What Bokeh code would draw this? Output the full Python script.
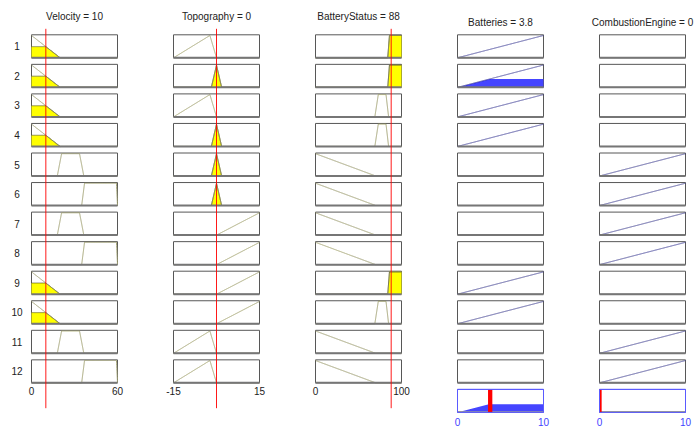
import numpy as np
from bokeh.plotting import figure
from bokeh.models import Range1d
from bokeh.embed import file_html
from bokeh.resources import INLINE
from bokeh.core.properties import value

# ---------------- data ----------------
input_names = ["Velocity", "Topography", "BatteryStatus"]
input_values = [10, 0, 88]
input_ranges = [(0, 60), (-15, 15), (0, 100)]
input_tick_labels = [["0", "60"], ["-15", "15"], ["0", "100"]]

output_names = ["Batteries", "CombustionEngine"]
output_values = [3.8, 0]
output_value_labels = ["3.8", "0"]
output_ranges = [(0, 10), (0, 10)]
output_tick_labels = [["0", "10"], ["0", "10"]]

velocity_mfs = {"low": [-1, 0, 0, 20], "medium": [18, 21, 33.5, 36.5], "high": [35, 37, 59.3, 60]}
topography_mfs = {"negative": [-15, -2.3, -2.3, 0], "zero": [-1.8, 0, 0, 1.8], "positive": [0, 15, 15, 16]}
battery_status_mfs = {"low": [-1, 0, 0, 70], "medium": [69, 73, 82, 85], "high": [84, 86, 100, 101]}
batteries_mfs = {"on": [0, 10, 10, 11]}
combustion_mfs = {"on": [0, 10, 10, 11]}

rule_velocity = ["low", "low", "low", "low", "medium", "high", "medium", "high", "low", "low", "medium", "high"]
rule_topography = ["negative", "zero", "negative", "zero", "zero", "zero", "positive", "positive",
                   "positive", "positive", "negative", "negative"]
rule_battery_status = ["high", "high", "medium", "medium", "low", "low", "low", "low", "high", "medium", "low", "low"]
rule_batteries = ["on", "on", "on", "on", None, None, None, None, "on", "on", None, None]
rule_combustion = [None, None, None, None, "on", "on", "on", "on", None, None, "on", "on"]
rule_strength = [0, 0.37, 0, 0, 0, 0, 0, 0, 0, 0, 0, 0]

# ---------------- styles / layout ----------------
FONT = value("Liberation Sans")
MF_COLOR = "#a3a374"
EDGE_COLOR = "#6f6f45"
OUT_COLOR = "#50509f"
YELLOW = "#ffff00"
BLUE = "#4545ff"
BOX_COLOR = "#575757"
BOTTOM_COLOR = "#767676"
AGG_BOX = "#5a5aff"
TEXT_COLOR = "#222222"

box_left = [31, 173, 315, 457, 599]
box_w = 86
row_top0 = 34.3
row_pitch = 29.55
row_h = 23.0
YTOP = 1.03
n_rules = len(rule_velocity)

input_mfs = [velocity_mfs, topography_mfs, battery_status_mfs]
input_rules = [rule_velocity, rule_topography, rule_battery_status]
output_mfs = [batteries_mfs, combustion_mfs]
output_rules = [rule_batteries, rule_combustion]


def trapmf(x, prm):
    a, b, c, d = prm
    return np.clip(np.minimum((x - a) / (b - a), (d - x) / (d - c)), 0, 1)


def grid(lo, hi, prm):
    pts = [q for q in prm if lo <= q <= hi]
    return np.unique(np.concatenate([np.linspace(lo, hi, 1201), pts]))


W, H = 695, 427
p = figure(width=W, height=H, x_range=Range1d(0, W), y_range=Range1d(H, 0),
           output_backend="svg", toolbar_location=None, min_border=0,
           x_axis_location=None, y_axis_location=None, title=None)
p.grid.visible = False
p.outline_line_color = None


def cell(col, row, lo, hi):
    top = row_top0 + row * row_pitch
    return p.subplot(x_source=Range1d(lo, hi), y_source=Range1d(0, YTOP),
                     x_target=Range1d(box_left[col], box_left[col] + box_w),
                     y_target=Range1d(top + row_h, top))


def draw_box(sub, lo, hi, color=BOX_COLOR):
    sub.quad(left=[lo], right=[hi], bottom=[0], top=[YTOP], fill_color="white",
             line_color=color, line_width=1)


# inputs
for c in range(3):
    lo, hi = input_ranges[c]
    for r in range(n_rules):
        sub = cell(c, r, lo, hi)
        draw_box(sub, lo, hi)
        prm = input_mfs[c][input_rules[c][r]]
        x = grid(lo, hi, prm)
        y = trapmf(x, prm)
        level = float(trapmf(np.array([input_values[c]], dtype=float), prm)[0])
        if level > 0:
            yf = np.minimum(y, level)
            sub.varea(x=x, y1=np.zeros_like(x), y2=yf, fill_color=YELLOW)
        sub.line(x, y, line_color=MF_COLOR, line_width=1)
        if level > 0:
            sub.line(x, np.minimum(y, level), line_color=EDGE_COLOR, line_width=0.8)
        sub.segment(x0=[lo], x1=[hi], y0=[0], y1=[0], line_color=BOTTOM_COLOR, line_width=2)
    col_sub = p.subplot(x_source=Range1d(lo, hi), y_source=Range1d(0, 1),
                        x_target=Range1d(box_left[c], box_left[c] + box_w),
                        y_target=Range1d(0, 1))
    col_sub.text(x=[lo, hi], y=[390.7, 390.7], text=input_tick_labels[c], text_font=FONT,
                 text_font_size="10px", text_align="center", text_baseline="middle",
                 text_color=TEXT_COLOR)
    col_sub.text(x=[(lo + hi) / 2], y=[15.5], text=[f"{input_names[c]} = {input_values[c]}"],
                 text_font=FONT, text_font_size="10px", text_align="center",
                 text_baseline="middle", text_color=TEXT_COLOR)
    red_sub = p.subplot(x_source=Range1d(lo, hi), y_source=Range1d(0, 1),
                        x_target=Range1d(box_left[c], box_left[c] + box_w),
                        y_target=Range1d(407.7, 28.3))
    red_sub.segment(x0=[input_values[c]], x1=[input_values[c]], y0=[0], y1=[1],
                    line_color="#ff0000", line_width=1, line_alpha=0.9)

# outputs
for k in range(2):
    c = 3 + k
    lo, hi = output_ranges[k]
    agg = None
    for r in range(n_rules):
        sub = cell(c, r, lo, hi)
        draw_box(sub, lo, hi)
        name = output_rules[k][r]
        if name is not None:
            prm = output_mfs[k][name]
            x = grid(lo, hi, prm)
            y = trapmf(x, prm)
            lev = rule_strength[r]
            if lev > 0:
                yf = np.minimum(y, lev)
                sub.varea(x=x, y1=np.zeros_like(x), y2=yf, fill_color=BLUE)
                agg = yf if agg is None else np.maximum(agg, yf)
            sub.line(x, y, line_color=OUT_COLOR, line_width=1)
        sub.segment(x0=[lo], x1=[hi], y0=[0], y1=[0], line_color=BOTTOM_COLOR, line_width=2)
    sub = cell(c, n_rules, lo, hi)
    draw_box(sub, lo, hi, color=AGG_BOX)
    xg = np.linspace(lo, hi, 1201)
    sub.segment(x0=[lo], x1=[hi], y0=[0.02], y1=[0.02], line_color="#9a9a9a", line_width=2)
    if agg is not None:
        sub.varea(x=xg, y1=np.full_like(xg, 0.05), y2=np.maximum(agg, 0.05), fill_color=BLUE)
    v = output_values[k]
    bw = 0.5 * (hi - lo) / 10
    sub.quad(left=[max(v - bw / 2, lo)], right=[min(v + bw / 2, hi)], bottom=[0], top=[YTOP],
             fill_color="#ff0000", line_color=None)
    sub.quad(left=[lo], right=[hi], bottom=[0], top=[YTOP], fill_color=None,
             line_color=AGG_BOX, line_width=1)
    col_sub = p.subplot(x_source=Range1d(lo, hi), y_source=Range1d(0, 1),
                        x_target=Range1d(box_left[c], box_left[c] + box_w),
                        y_target=Range1d(0, 1))
    col_sub.text(x=[lo, hi], y=[421.7, 421.7], text=output_tick_labels[k], text_font=FONT,
                 text_font_size="10px", text_align="center", text_baseline="middle",
                 text_color="#3f3fff")
    col_sub.text(x=[(lo + hi) / 2], y=[22], text=[f"{output_names[k]} = {output_value_labels[k]}"],
                 text_font=FONT, text_font_size="10px", text_align="center",
                 text_baseline="middle", text_color=TEXT_COLOR)

row_centers = [row_top0 + r * row_pitch + row_h / 2 for r in range(n_rules)]
p.text(x=[16.5] * n_rules, y=row_centers, text=[str(r + 1) for r in range(n_rules)],
       text_font=FONT, text_font_size="10px", text_align="center", text_baseline="middle",
       text_color=TEXT_COLOR)

open("out.html", "w").write(file_html(p, INLINE))
